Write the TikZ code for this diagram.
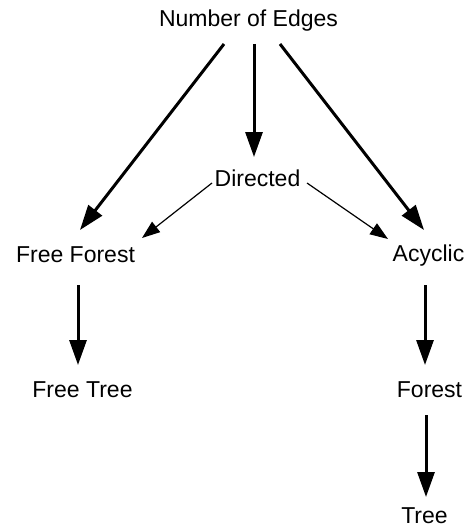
\documentclass[tikz,border=0pt]{standalone}
\usepackage{fontspec}
\setmainfont{Liberation Sans}
\usetikzlibrary{arrows.meta,calc}
\begin{document}
\begin{tikzpicture}[x=1pt,y=-1pt,
  lbl/.style={anchor=base,inner sep=0pt,font=\fontsize{23}{26}\selectfont},
  thick arr/.style={line width=3pt,-{Triangle[length=25pt,width=17pt]}},
  thin arr/.style={line width=1.2pt,-{Triangle[length=18pt,width=13pt]}}]
\useasboundingbox[fill=white] (0,0) rectangle (467,527);
\node[lbl] (num) at (248.5,27) {Number of Edges};
\node[lbl] (dir) at (257.5,186) {Directed};
\node[lbl] (ff) at (75.5,262) {Free Forest};
\node[lbl] (acy) at (428.5,261) {Acyclic};
\node[lbl] (ft) at (82.5,397) {Free Tree};
\node[lbl] (for) at (429.5,397) {Forest};
\node[lbl] (tree) at (424.5,523.5) {Tree};
\draw[thick arr] ($(num.base)+(-24.5,17)$) -- ($(ff.base)+(4.5,-32)$);
\draw[thick arr] ($(num.base)+(5.5,17)$) -- ($(dir.base)+(-3.5,-29)$);
\draw[thick arr] ($(num.base)+(31.5,17)$) -- ($(acy.base)+(-4.5,-31)$);
\draw[thin arr] ($(dir.base)+(-45.5,-3)$) -- ($(ff.base)+(66.5,-24)$);
\draw[thin arr] ($(dir.base)+(49.5,-3)$) -- ($(acy.base)+(-40.5,-22)$);
\draw[thick arr] ($(ff.base)+(2.5,23)$) -- ($(ft.base)+(-4.5,-32)$);
\draw[thick arr] ($(acy.base)+(-3.5,24)$) -- ($(for.base)+(-4.5,-32)$);
\draw[thick arr] ($(for.base)+(-3.5,18)$) -- ($(tree.base)+(1.5,-26.5)$);
\end{tikzpicture}
\end{document}
